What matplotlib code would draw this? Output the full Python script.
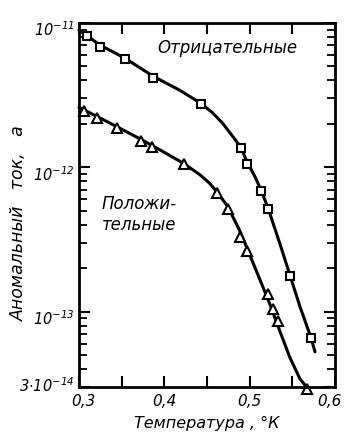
import numpy as np
import matplotlib.pyplot as plt
import matplotlib.transforms as mtransforms

plt.rcParams['font.family'] = ['DejaVu Sans']
plt.rcParams['mathtext.fontset'] = 'custom'
plt.rcParams['mathtext.rm'] = 'DejaVu Sans:italic'
plt.rcParams['mathtext.it'] = 'DejaVu Sans:italic'

# точки: отрицательные (квадраты)
neg_T = [0.3094, 0.3246, 0.3539, 0.3867, 0.4430, 0.4899, 0.4969, 0.5133, 0.5215, 0.5473, 0.5719]
neg_I = [8.1e-12, 6.8e-12, 5.6e-12, 4.14e-12, 2.73e-12, 1.35e-12, 1.06e-12, 6.86e-13, 5.14e-13, 1.75e-13, 6.6e-14]

# точки: положительные (треугольники)
pos_T = [0.3059, 0.3211, 0.3445, 0.3727, 0.3855, 0.4230, 0.4617, 0.4746, 0.4887, 0.4969, 0.5215,
         0.5273, 0.5332, 0.5672]
pos_I = [2.44e-12, 2.21e-12, 1.88e-12, 1.53e-12, 1.39e-12, 1.06e-12, 6.64e-13, 5.14e-13, 3.28e-13,
         2.62e-13, 1.33e-13, 1.05e-13, 8.65e-14, 2.9e-14]

# сглаженные кривые
neg_curve_T = [0.3, 0.3246, 0.3539, 0.3867, 0.4184, 0.4430, 0.4560, 0.4680, 0.4790, 0.4899, 0.4969,
               0.5063, 0.5133, 0.5215, 0.5356, 0.5473, 0.5590, 0.5719, 0.5766]
neg_curve_I = [8.94e-12, 7.03e-12, 5.70e-12, 4.28e-12, 3.41e-12, 2.77e-12, 2.40e-12, 2.03e-12, 1.67e-12,
               1.37e-12, 1.09e-12, 8.59e-13, 6.97e-13, 5.22e-13, 2.93e-13, 1.78e-13, 1.08e-13, 6.59e-14,
               5.26e-14]

pos_curve_T = [0.3, 0.3211, 0.3445, 0.3727, 0.3949, 0.4230, 0.4418, 0.4530, 0.4617, 0.4746, 0.4887,
               0.5004, 0.5121, 0.5238, 0.5356, 0.5473, 0.5590, 0.5695]
pos_curve_I = [2.60e-12, 2.25e-12, 1.91e-12, 1.56e-12, 1.32e-12, 1.06e-12, 8.87e-13, 7.75e-13, 6.75e-13,
               5.31e-13, 3.60e-13, 2.45e-13, 1.66e-13, 1.12e-13, 7.26e-14, 4.78e-14, 3.41e-14, 2.86e-14]

xticks = [0.3, 0.4, 0.5, 0.6]
xticklabels = ['0,3', '0,4', '0,5', '0,6']
yticks = [1e-11, 1e-12, 1e-13, 3e-14]
yticklabels = [r'$10^{-11}$', r'$10^{-12}$', r'$10^{-13}$', r'$3{\cdot}10^{-14}$']

fig = plt.figure(figsize=(3.45, 4.42), dpi=100)
ax = fig.add_axes([0.229, 0.1244, 0.742, 0.8236])

ax.plot(neg_curve_T, neg_curve_I, color='black', lw=2.2, solid_capstyle='round', clip_on=False)
ax.plot(pos_curve_T, pos_curve_I, color='black', lw=2.2, solid_capstyle='round', clip_on=False)
ax.plot(neg_T, neg_I, 's', ms=6, mfc='white', mec='black', mew=1.5, clip_on=False)
ax.plot(pos_T, pos_I, '^', ms=7, mfc='white', mec='black', mew=1.5, clip_on=False)

ax.set_yscale('log')
ax.set_xlim(0.3, 0.6)
ax.set_ylim(3e-14, 1e-11)

ax.set_xticks(xticks)
ax.set_xticklabels(xticklabels, fontsize=11, style='italic')
ax.set_xticks([0.35, 0.45, 0.55], minor=True)
ax.set_yticks(yticks)
ax.set_yticklabels(yticklabels, fontsize=10.5)

ax.tick_params(axis='x', which='both', direction='in', top=True, length=8, width=1.5, pad=5)
ax.tick_params(axis='y', which='major', direction='in', right=True, length=8, width=1.5, pad=3)
ax.tick_params(axis='y', which='minor', direction='in', right=True, length=6, width=1.3)
for s in ax.spines.values():
    s.set_linewidth(2)

# подписи по оси y в оригинале чуть ниже делений (кроме нижней)
down = mtransforms.ScaledTranslation(0, -4 / 72, fig.dpi_scale_trans)
for lab in ax.get_yticklabels()[:3]:
    lab.set_transform(lab.get_transform() + down)
up = mtransforms.ScaledTranslation(0, 2 / 72, fig.dpi_scale_trans)
lab14 = ax.get_yticklabels()[-1]
lab14.set_transform(lab14.get_transform() + up)
# "0,3" чуть правее, "0,6" у самого края
xl = ax.get_xticklabels()
xl[0].set_transform(xl[0].get_transform() + mtransforms.ScaledTranslation(3 / 72, 0, fig.dpi_scale_trans))
xl[-1].set_transform(xl[-1].get_transform() + mtransforms.ScaledTranslation(-4 / 72, 0, fig.dpi_scale_trans))

ax.text(0.578, 0.931, 'Отрицательные', transform=ax.transAxes, ha='center', va='center',
        fontsize=12, style='italic')
ax.text(0.09, 0.475, 'Положи-\nтельные', transform=ax.transAxes, ha='left', va='center',
        fontsize=12, style='italic', linespacing=1.2)

ax.set_xlabel('Температура , °К', fontsize=11.5, style='italic')
ax.xaxis.set_label_coords(0.5, -0.08)
ax.set_ylabel('Аномальный   ток,   а', fontsize=12.5, style='italic')
ax.yaxis.set_label_coords(-0.2, 0.45)

plt.savefig('out.png', dpi=100)
